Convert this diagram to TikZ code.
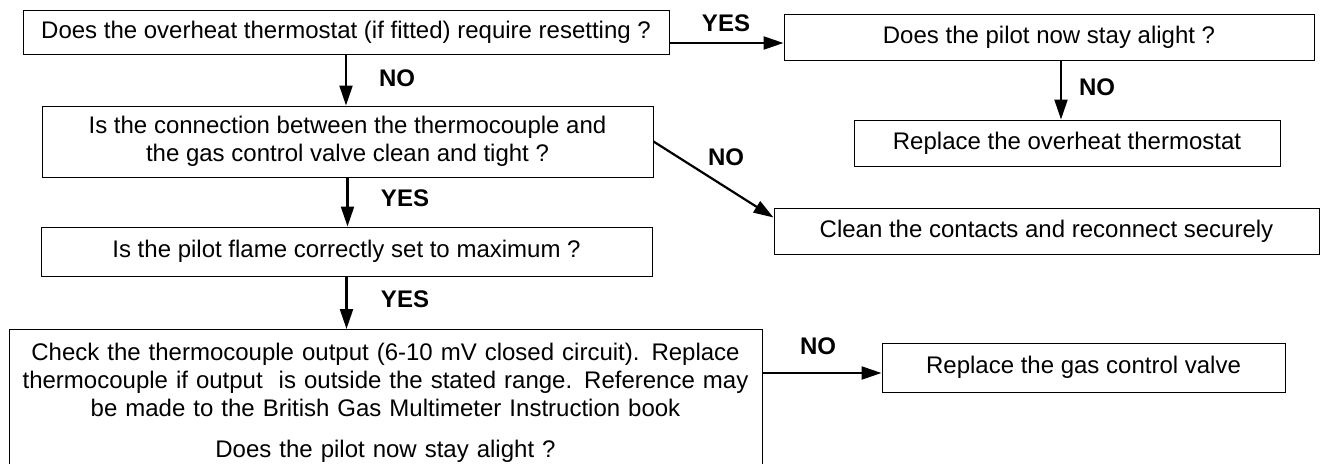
\documentclass[tikz,border=0pt]{standalone}
\usepackage{fontspec}
\setmainfont{Liberation Sans}
\usetikzlibrary{arrows.meta,positioning}

\begin{document}
\begin{tikzpicture}[
  x=1pt, y=-1pt,
  every node/.style={font=\fontsize{24}{27.6}\selectfont},
  box/.style={draw,line width=1pt,rectangle,inner sep=0pt,align=center},
  flow/.style={-{Triangle[length=20pt,width=13pt]},line width=2.2pt},
  answer/.style={font=\fontsize{24}{27.6}\selectfont\bfseries}
]
\useasboundingbox (0,0) rectangle (1332,463);

% Questions
\node[box,minimum width=646,minimum height=44] (reset) at (346,32)
  {Does the overheat thermostat (if fitted) require resetting ?};
\node[box,minimum width=611,minimum height=71] (connect) at (347.5,141.5)
  {Is the connection between the thermocouple and\\ the gas control valve clean and tight ?};
\node[box,minimum width=611,minimum height=49] (flame) at (346.5,251.5)
  {Is the pilot flame correctly set to maximum ?};
\node[box,anchor=north,text width=753,inner ysep=14pt] (output) at (385.5,329)
  {Check the thermocouple output (6-10 mV closed circuit). Replace\\
   thermocouple if output\ \ is outside the stated range. Reference may\\
   be made to the British Gas Multimeter Instruction book\\[14pt]
   Does the pilot now stay alight ?};
\node[box,minimum width=530,minimum height=46] (alight) at (1049,37)
  {Does the pilot now stay alight ?};

% Actions
\node[box,minimum width=426,minimum height=46] (overheat) at (1067,143)
  {Replace the overheat thermostat};
\node[box,minimum width=545,minimum height=46] (clean) at (1046.5,231)
  {Clean the contacts and reconnect securely};
\node[box,minimum width=403,minimum height=49] (valve) at (1083.5,367.5)
  {Replace the gas control valve};

% Arrows
\draw[flow] ([yshift=-11pt]reset.east) -- ([yshift=-11pt]reset.east -| alight.west);
\draw[flow] (reset.south) -- (reset.south |- connect.north);
\draw[flow] ([xshift=12pt]alight.south) -- ([xshift=12pt]alight.south |- overheat.north);
\draw[flow] (connect.east) -- ([yshift=-10pt]clean.north west);
\draw[flow] (connect.south) -- (connect.south |- flame.north);
\draw[flow] (flame.south) -- (flame.south |- output.north);
\draw[flow] ([yshift=-5.5pt]valve.west -| output.east) -- ([yshift=-5.5pt]valve.west);

% Answers
\node[answer] (a1) at (726,23) {YES};
\node[answer] (a2) at (397,78) {NO};
\node[answer] (a3) at (1097,87) {NO};
\node[answer] (a4) at (726,157) {NO};
\node[answer] (a5) at (405,198) {YES};
\node[answer] (a6) at (405,299) {YES};
\node[answer] (a7) at (818,346) {NO};

\end{tikzpicture}
\end{document}
